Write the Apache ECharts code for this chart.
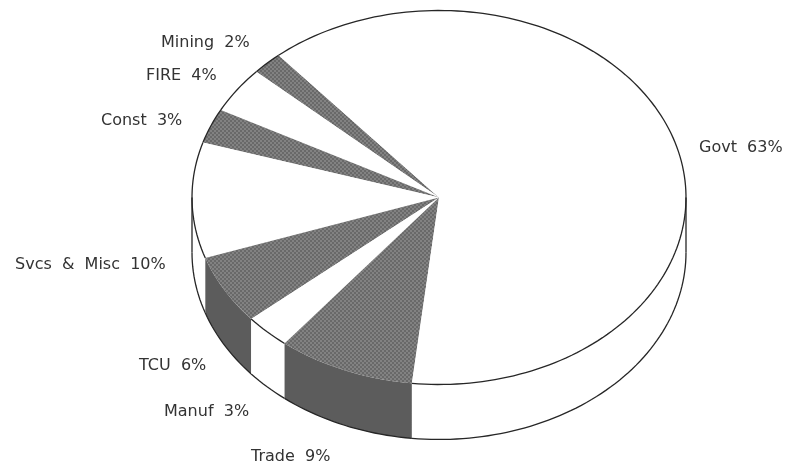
<!DOCTYPE html>
<html>
<head>
<meta charset="utf-8">
<style>
  html, body { margin: 0; padding: 0; background: #fff; }
  #chart { width: 790px; height: 466px; }
</style>
<script src="https://cdn.jsdelivr.net/npm/echarts@6/dist/echarts.min.js"></script>
</head>
<body>
<div id="chart"></div>
<script>
// Share of employment by sector, drawn counter-clockwise from the first slice.
const categories = ['Mining', 'FIRE', 'Const', 'Svcs & Misc', 'TCU', 'Manuf', 'Trade', 'Govt'];
const shares = [2, 4, 3, 10, 6, 3, 9, 63];
const shaded = [true, false, true, false, true, false, true, false];

// Left edge and vertical centre of each label, in pixels.
const labelAnchors = [
  [161, 43], [146, 76], [101, 121], [15, 265],
  [139, 366], [164, 412], [251, 457], [699, 148]
];

const START_DEG = 130.5;   // where the first slice begins
const DEPTH = 0.294;       // wall height, in units of the vertical radius
const INK = '#262626';
const WALL_DARK = '#5c5c5c';

// Halftone tile for the shaded top faces.
function halftone() {
  const c = document.createElement('canvas');
  c.width = c.height = 4;
  const g = c.getContext('2d');
  g.fillStyle = '#696969';
  g.fillRect(0, 0, 4, 4);
  g.fillStyle = '#828282';
  g.fillRect(0, 0, 2, 2);
  g.fillRect(2, 2, 2, 2);
  return c;
}
const topShade = { image: halftone(), repeat: 'repeat' };

// Slice boundaries in degrees, proportional to the shares.
const total = shares.reduce((a, b) => a + b, 0);
const bounds = [START_DEG];
shares.forEach(v => bounds.push(bounds[bounds.length - 1] + v / total * 360));

function arc(api, a0, a1, drop) {
  const pts = [];
  const n = Math.max(2, Math.ceil((a1 - a0) / 1.5));
  for (let i = 0; i <= n; i++) {
    const t = (a0 + (a1 - a0) * i / n) * Math.PI / 180;
    pts.push(api.coord([Math.cos(t), Math.sin(t) - drop]));
  }
  return pts;
}

function renderSlice(params, api) {
  const i = params.dataIndex;
  const a0 = bounds[i], a1 = bounds[i + 1];
  const dark = shaded[i];
  const children = [];

  // Side wall, only where the rim faces the viewer.
  const w0 = Math.max(a0, 180), w1 = Math.min(a1, 360);
  if (w1 > w0) {
    const upper = arc(api, w0, w1, 0);
    const lower = arc(api, w0, w1, DEPTH);
    children.push({
      type: 'polygon',
      shape: { points: upper.concat(lower.slice().reverse()) },
      style: { fill: dark ? WALL_DARK : '#fff', stroke: null }
    });
    children.push({
      type: 'polyline',
      shape: { points: lower },
      style: { fill: null, stroke: INK, lineWidth: 1.3 }
    });
  }

  // Top face.
  const rim = arc(api, a0, a1, 0);
  children.push({
    type: 'polygon',
    shape: { points: [api.coord([0, 0])].concat(rim) },
    style: { fill: dark ? topShade : '#fff', stroke: null }
  });
  if (!(dark && w1 > w0)) {
    children.push({
      type: 'polyline',
      shape: { points: rim },
      style: { fill: null, stroke: INK, lineWidth: 1.3 }
    });
  }

  // Outer verticals at the widest points of the ellipse.
  [180, 360].forEach(deg => {
    if (w1 > w0 && (w0 === deg || w1 === deg)) {
      const top = api.coord([deg === 180 ? -1 : 1, 0]);
      const bottom = api.coord([deg === 180 ? -1 : 1, -DEPTH]);
      children.push({
        type: 'line',
        shape: { x1: top[0], y1: top[1], x2: bottom[0], y2: bottom[1] },
        style: { stroke: INK, lineWidth: 1.3 }
      });
    }
  });

  // Sector label, set with wide word gaps.
  children.push({
    type: 'text',
    style: {
      x: labelAnchors[i][0],
      y: labelAnchors[i][1],
      text: categories[i].replace(/ /g, '  ') + '  ' + api.value(0) + '%',
      fill: '#333',
      font: '16px "DejaVu Sans"',
      textAlign: 'left',
      textVerticalAlign: 'middle'
    }
  });

  return { type: 'group', children };
}

const chart = echarts.init(document.getElementById('chart'), null, { renderer: 'canvas' });
chart.setOption({
  animation: false,
  backgroundColor: '#fff',
  // The axes span one radius either way, so a slice is drawn on a unit circle.
  grid: { left: 192, top: 10.5, width: 494, height: 374 },
  xAxis: { type: 'value', min: -1, max: 1, show: false },
  yAxis: { type: 'value', min: -1, max: 1, show: false },
  series: [{
    type: 'custom',
    coordinateSystem: 'cartesian2d',
    clip: false,
    silent: true,
    data: shares.map(v => [v]),
    encode: { x: [], y: [] },
    renderItem: renderSlice
  }]
});
</script>
</body>
</html>
